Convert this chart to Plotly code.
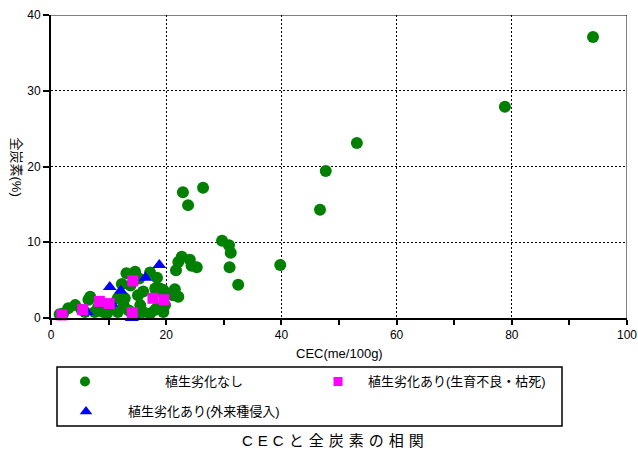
import plotly.graph_objects as go

# CEC (me/100g) vs total carbon (%) for three vegetation-condition groups
none_cec = [94.1, 78.8, 53.1, 47.7, 46.7, 39.8, 32.5, 31.2, 30.9, 29.7, 31.0, 26.4, 22.9, 23.8,
            22.7, 22.1, 24.1, 25.3, 24.4, 21.7, 21.5, 22.1, 21.2, 19.5, 18.3, 18.1, 19.5, 19.8,
            14.6, 13.1, 17.2, 18.1, 18.9, 12.8, 11.6, 15.1, 16.0, 15.5, 17.2, 11.6, 9.7, 12.6,
            18.4, 16.0, 15.3, 13.8, 12.3, 3.0, 4.2, 5.3, 6.5, 6.8, 5.9, 7.6, 8.2, 9.1, 2.1, 1.5,
            10.5, 13.5, 14.8, 18.4]
none_tc = [37.1, 27.9, 23.1, 19.4, 14.3, 7.0, 4.4, 8.6, 9.6, 10.2, 6.7, 17.2, 16.6, 14.9,
           8.1, 7.4, 7.7, 6.7, 6.9, 6.3, 3.8, 2.8, 3.0, 3.7, 3.5, 1.1, 0.8, 1.7,
           6.1, 5.9, 6.0, 3.9, 3.9, 2.6, 2.6, 3.0, 3.5, 1.7, 0.6, 0.8, 0.6, 1.7,
           1.3, 0.8, 5.2, 4.3, 4.5, 1.3, 1.7, 1.1, 2.4, 2.8, 0.8, 0.8, 1.5, 0.8, 0.6, 0.5,
           1.2, 1.0, 0.4, 5.3]

dieback_cec = [1.9, 5.5, 8.4, 10.1, 14.2, 14.1, 17.7, 19.6]
dieback_tc = [0.4, 1.1, 2.2, 1.9, 4.9, 0.7, 2.6, 2.4]

invasive_cec = [6.2, 10.2, 10.5, 12.1, 14.0, 16.4, 18.8]
invasive_tc = [0.8, 4.1, 1.9, 3.6, 0.0, 5.3, 7.0]

series_names = ["植生劣化なし", "植生劣化あり(生育不良・枯死)", "植生劣化あり(外来種侵入)"]
x_ticks = [0, 20, 40, 60, 80, 100]
y_ticks = [0, 10, 20, 30, 40]

W, H = 638, 450
LAT = "Liberation Sans, Arial, Noto Sans CJK JP, sans-serif"
JP = "Liberation Sans, Noto Sans CJK JP, sans-serif"
GREEN, MAGENTA, BLUE = "#008000", "#FF00FF", "#0000FF"

# plot frame in pixels
px_l, px_r, px_t, px_b = 51, 627, 15, 318

fig = go.Figure()

fig.add_trace(go.Scatter(x=none_cec, y=none_tc, mode="markers", name=series_names[0],
                         marker=dict(symbol="circle", size=12, color=GREEN, line=dict(width=0)),
                         cliponaxis=False, showlegend=False))
fig.add_trace(go.Scatter(x=invasive_cec, y=invasive_tc, mode="markers", name=series_names[2],
                         marker=dict(symbol="triangle-up", size=12, color=BLUE, line=dict(width=0)),
                         cliponaxis=False, showlegend=False))
fig.add_trace(go.Scatter(x=dieback_cec, y=dieback_tc, mode="markers", name=series_names[1],
                         marker=dict(symbol="square", size=11, color=MAGENTA, line=dict(width=0)),
                         cliponaxis=False, showlegend=False))

# legend keys on a full-figure pixel-frame axis pair
key_x = [85, 338, 86]
key_y = [381.5, 381.5, 411.5]
key_sym = ["circle", "square", "triangle-up"]
key_col = [GREEN, MAGENTA, BLUE]
key_size = [10, 9, 11]
for kx, ky, ks, kc, kz in zip(key_x, key_y, key_sym, key_col, key_size):
    fig.add_trace(go.Scatter(x=[kx], y=[ky], xaxis="x2", yaxis="y2", mode="markers",
                             marker=dict(symbol=ks, size=kz, color=kc, line=dict(width=0)),
                             hoverinfo="skip", showlegend=False, cliponaxis=False))

label_x = [204, 457, 204]
label_y = [381.5, 381.5, 411.5]
annotations = []
for lx, ly, name in zip(label_x, label_y, series_names):
    annotations.append(dict(x=lx, y=ly, xref="x2", yref="y2", text=name, showarrow=False,
                            xanchor="center", yanchor="middle",
                            font=dict(family=JP, size=13, color="#000")))

annotations.append(dict(x=(px_l + px_r) / 2, y=353, xref="x2", yref="y2", text="CEC(me/100g)",
                        showarrow=False, xanchor="center", yanchor="middle",
                        font=dict(family=LAT, size=13, color="#000")))
annotations.append(dict(x=16, y=(px_t + px_b) / 2, xref="x2", yref="y2", text="全炭素(%)",
                        textangle=90, showarrow=False, xanchor="center", yanchor="middle",
                        font=dict(family=JP, size=13, color="#000")))
annotations.append(dict(x=335, y=440, xref="x2", yref="y2",
                        text='<span style="letter-spacing:5px">CECと全炭素の相関</span>',
                        showarrow=False, xanchor="center", yanchor="middle",
                        font=dict(family=JP, size=15, color="#000")))

shapes = [
    # legend frame
    dict(type="rect", xref="x2", yref="y2", x0=57, x1=562, y0=367, y1=426,
         line=dict(color="#000", width=1.5), fillcolor="rgba(0,0,0,0)"),
    # thin top and right frame lines
    dict(type="line", xref="x", yref="y", x0=0, x1=100, y0=40, y1=40,
         line=dict(color="#000", width=1)),
    dict(type="line", xref="x", yref="y", x0=100, x1=100, y0=0, y1=40,
         line=dict(color="#000", width=1)),
]

fig.update_layout(
    width=W, height=H,
    margin=dict(l=0, r=0, t=0, b=0),
    paper_bgcolor="white", plot_bgcolor="rgba(0,0,0,0)",
    showlegend=False,
    annotations=annotations, shapes=shapes,
    xaxis=dict(domain=[px_l / W, px_r / W], range=[0, 100], tickvals=x_ticks,
               showline=True, linecolor="#000", linewidth=2,
               ticks="outside", ticklen=5, tickwidth=2, tickcolor="#000",
               minor=dict(dtick=10, ticks="outside", ticklen=5, tickwidth=2, tickcolor="#000",
                          showgrid=False),
               showgrid=True, gridcolor="#000", gridwidth=1, griddash="2px,2px",
               zeroline=False, automargin=False,
               tickfont=dict(family=LAT, size=12, color="#000")),
    yaxis=dict(domain=[1 - px_b / H, 1 - px_t / H], range=[0, 40], tickvals=y_ticks,
               showline=True, linecolor="#000", linewidth=2,
               ticks="outside", ticklen=6, tickwidth=2, tickcolor="#000",
               showgrid=True, gridcolor="#000", gridwidth=1, griddash="2px,2px",
               zeroline=False, automargin=False,
               tickfont=dict(family=LAT, size=12, color="#000")),
    xaxis2=dict(domain=[0, 1], range=[0, W], visible=False, anchor="y2"),
    yaxis2=dict(domain=[0, 1], range=[H, 0], visible=False, anchor="x2"),
)

fig.write_html("out.html")
